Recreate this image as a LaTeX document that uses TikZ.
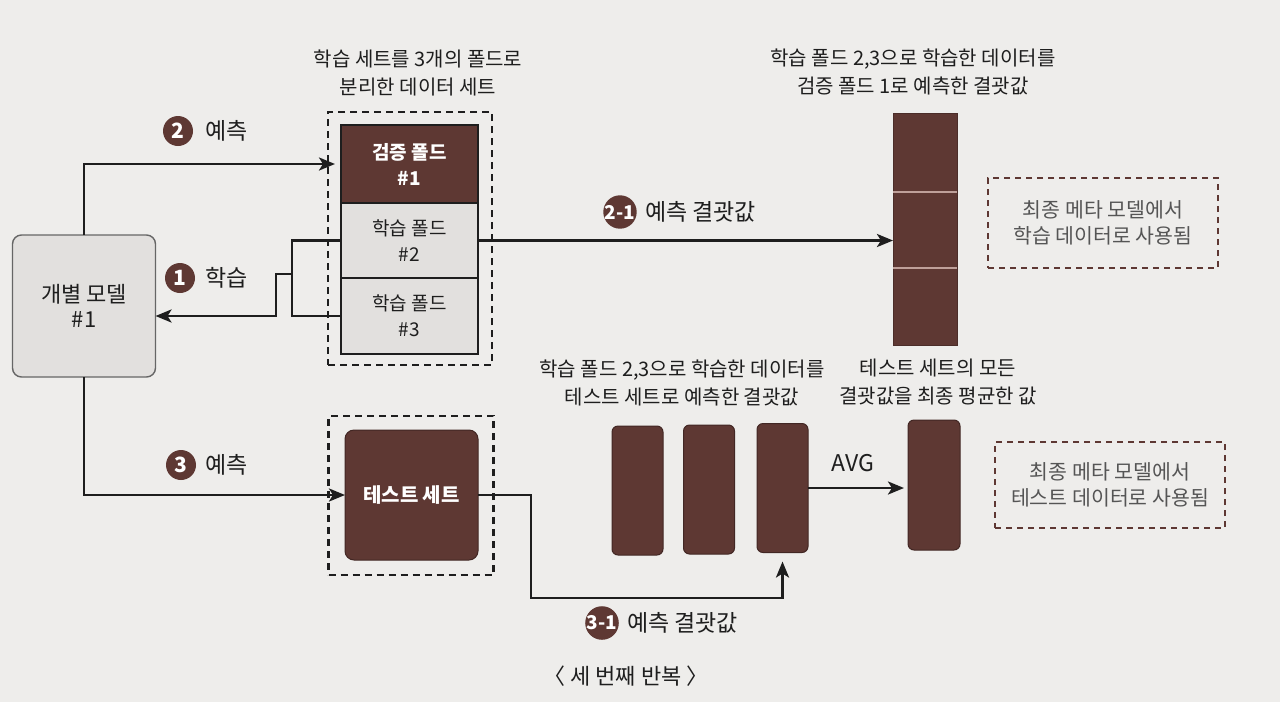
\documentclass[tikz,border=0pt]{standalone}
\usepackage{fontspec}
\setmainfont{Noto Sans CJK KR}
\usetikzlibrary{arrows.meta,calc}
\definecolor{bg}{HTML}{EEEDEB}
\definecolor{brn}{RGB}{94,56,51}
\definecolor{ink}{HTML}{1E1E1E}
\definecolor{lgray}{HTML}{E2E0DE}
\definecolor{mgray}{HTML}{E2E0DE}
\definecolor{notegray}{HTML}{555555}
\definecolor{divcol}{HTML}{BFA09A}
\begin{document}
\begin{tikzpicture}[x=1pt,y=-1pt,
  every node/.style={inner sep=0pt, outer sep=0pt, text=ink},
  conn/.style={draw=ink, line width=2.8pt},
  arr/.style={conn, -{Stealth[length=16pt,width=13pt,inset=4pt]}},
  dashblk/.style={draw=ink, line width=2.6pt, dash pattern=on 7pt off 5pt},
  dashbrn/.style={draw=brn, line width=2.6pt, dash pattern=on 6pt off 5pt, align=center, text=notegray, font=\fontsize{20.5}{26}\selectfont},
  modelbox/.style={draw=gray!80!black, line width=1.4pt, fill=lgray, rounded corners=9pt, minimum width=143pt, minimum height=142pt, align=center, font=\fontsize{22}{25}\selectfont},
  foldtop/.style={draw=ink, line width=2.2pt, fill=brn, text=white, minimum width=137pt, align=center, font=\bfseries\fontsize{19}{26}\selectfont},
  foldlow/.style={draw=ink, line width=2.2pt, fill=mgray, minimum width=137pt, align=center, font=\fontsize{19}{26}\selectfont},
  testbox/.style={draw=brn!70!black, line width=1pt, fill=brn, text=white, rounded corners=9pt, font=\bfseries\fontsize{20}{22}\selectfont},
  bar/.style={draw=brn!70!black, line width=1pt, fill=brn, rounded corners=6pt, minimum width=51pt, minimum height=129pt},
  rescol/.style={draw=brn!80!black, line width=1pt, fill=brn},
  divline/.style={draw=divcol, line width=1.2pt},
  title/.style={align=center, font=\fontsize{20}{28}\selectfont},
  num/.style={circle, fill=brn, text=white, minimum size=30pt, font=\bfseries\fontsize{21}{21}\selectfont},
  numsm/.style={num, font=\bfseries\fontsize{19}{19}\selectfont},
  lbl/.style={font=\fontsize{23}{26}\selectfont}
]
\useasboundingbox (0,0) rectangle (1280,702);
\fill[bg] (0,0) rectangle (1280,702);

% left model
\node[modelbox] (model) at (84,306) {개별 모델\\\#1};

% folds
\node[dashblk, minimum width=164pt, minimum height=253pt] (d1) at (410,238.5) {};
\node[foldtop, minimum height=78pt] (f1) at (409.5,164) {검증 폴드\\\#1};
\node[foldlow, minimum height=75pt] (f2) at (409.5,240.5) {학습 폴드\\\#2};
\node[foldlow, minimum height=76pt] (f3) at (409.5,316) {학습 폴드\\\#3};
\node[title] (t1) at (418,73) {학습 세트를 3개의 폴드로\\분리한 데이터 세트};

% result column
\node[rescol, minimum width=64pt, minimum height=232pt] (res) at (925,229) {};
\draw[divline] ($(res.north west)!{79/232}!(res.south west)$) -- ($(res.north east)!{79/232}!(res.south east)$);
\draw[divline] ($(res.north west)!{155/232}!(res.south west)$) -- ($(res.north east)!{155/232}!(res.south east)$);
\node[title] (t2) at (913,72) {학습 폴드 2,3으로 학습한 데이터를\\검증 폴드 1로 예측한 결괏값};
\node[dashbrn, minimum width=230pt, minimum height=90pt] (n1) at (1103,223) {최종 메타 모델에서\\학습 데이터로 사용됨};

% arrows top
\draw[arr] (model.north) |- ($(f1.west)+(-6,0)$);
\node[num] (c2) at (178,131) {2};
\node[lbl, anchor=west] (l2) at (205,131) {예측};

\draw[conn] (f2.west) -- ++(-49,0) coordinate (bk) |- (f3.west);
\coordinate (bm) at (292,274);
\draw[arr] (bm) -- ++(-16,0) |- (model.east |- f3.west);
\node[num] (c1) at (180,278) {1};
\node[lbl, anchor=west] (l1) at (205,278) {학습};

\draw[arr] (f2.east) -- (f2.east -| res.west);
\node[numsm] (c21) at (620,212) {2-1};
\node[lbl, anchor=west] (l21) at (645,212) {예측 결괏값};

% bottom
\node[dashblk, minimum width=165pt, minimum height=159pt] (d2) at (411,495.5) {};
\node[testbox, minimum width=133pt, minimum height=130pt] (test) at (411.5,495) {테스트 세트};
\draw[arr] (model.south) |- (test.west);
\node[num] (c3) at (181,465) {3};
\node[lbl, anchor=west] (l3) at (205,465) {예측};

\node[bar] (b1) at (637.5,490.5) {};
\node[bar] (b2) at (709,489.5) {};
\node[bar] (b3) at (782.5,488) {};
\node[title] (t3) at (682,383) {학습 폴드 2,3으로 학습한 데이터를\\테스트 세트로 예측한 결괏값};

\coordinate (c31) at (531,598);
\draw[arr] (test.east) -| (c31) -| ($(b3.south)+(0,9)$);
\node[numsm] (n31) at (602,623) {3-1};
\node[lbl, anchor=west] (l31) at (627,623) {예측 결괏값};

\node[bar, minimum width=52pt, minimum height=130pt] (fin) at (934,485) {};
\draw[arr, shorten >=4pt] (b3.east) -- (b3.east -| fin.west);
\node[lbl] (avg) at (853,463) {AVG};
\node[title] (t4) at (938,382) {테스트 세트의 모든\\결괏값을 최종 평균한 값};
\node[dashbrn, minimum width=230pt, minimum height=86pt] (n2) at (1110,485) {최종 메타 모델에서\\테스트 데이터로 사용됨};

\node[font=\fontsize{22}{24}\selectfont] (cap) at (626,676) {〈\ 세 번째 반복 〉};
\end{tikzpicture}
\end{document}
